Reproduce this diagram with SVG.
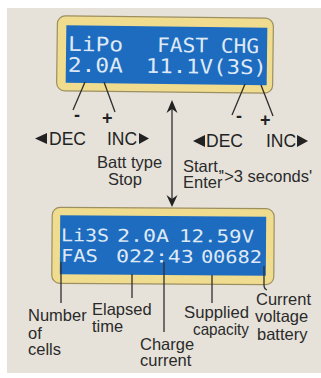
<svg xmlns="http://www.w3.org/2000/svg" width="321" height="378" viewBox="0 0 321 378">
<defs>
<style>
.bg{fill:#e6e2da}
.frame{fill:#f0dc8f;stroke:#9c8f62;stroke-width:1.2}
.lcd{fill:#1e6cc0}
.lt{font-family:"DejaVu Sans Mono","Liberation Mono",monospace;fill:#dfe9f6}
.lbl{font-family:"Liberation Sans",Arial,sans-serif;fill:#2a2a2a;font-size:16.5px}
.key{font-family:"Liberation Sans",Arial,sans-serif;fill:#222;font-size:17.5px}
.pm{font-family:"Liberation Sans",Arial,sans-serif;fill:#222;font-size:18px;font-weight:bold}
.ln{stroke:#2e2e2e;stroke-width:1.3;fill:none}
.tri{fill:#222}
</style>
</defs>
<rect width="321" height="378" fill="#ffffff"/>
<rect class="bg" x="7" y="8" width="314" height="365"/>

<g id="lcd-top" transform="rotate(0.7 165 55)">
<rect class="frame" x="57" y="17" width="216" height="75" rx="8"/>
<rect class="lcd" x="66" y="26.5" width="201" height="57.5"/>
<text class="lt" x="68" y="52" font-size="20" textLength="55" lengthAdjust="spacingAndGlyphs">LiPo</text>
<text class="lt" x="157" y="52" font-size="20" textLength="102" lengthAdjust="spacingAndGlyphs">FAST CHG</text>
<text class="lt" x="68" y="73" font-size="20" textLength="55" lengthAdjust="spacingAndGlyphs">2.0A</text>
<text class="lt" x="146" y="73" font-size="20" textLength="121" lengthAdjust="spacingAndGlyphs">11.1V(3S)</text>
</g>

<g id="lcd-bottom" transform="rotate(0.4 163 245)">
<rect class="frame" x="52" y="208" width="222" height="76" rx="8"/>
<rect class="lcd" x="60" y="216" width="206" height="59"/>
<text class="lt" x="61" y="242" font-size="17.5" textLength="48" lengthAdjust="spacingAndGlyphs">Li3S</text>
<text class="lt" x="117" y="242" font-size="17.5" textLength="52" lengthAdjust="spacingAndGlyphs">2.0A</text>
<text class="lt" x="179" y="242" font-size="17.5" textLength="75" lengthAdjust="spacingAndGlyphs">12.59V</text>
<text class="lt" x="61" y="262.5" font-size="17.5" textLength="37" lengthAdjust="spacingAndGlyphs">FAS</text>
<text class="lt" x="116" y="262.5" font-size="17.5" textLength="78" lengthAdjust="spacingAndGlyphs">022:43</text>
<text class="lt" x="201" y="262.5" font-size="17.5" textLength="61" lengthAdjust="spacingAndGlyphs">00682</text>
</g>

<g id="connectors">
<line class="ln" x1="85" y1="82" x2="73" y2="110"/>
<line class="ln" x1="104" y1="82" x2="115" y2="112"/>
<line class="ln" x1="245" y1="84" x2="232" y2="115"/>
<line class="ln" x1="261" y1="85" x2="273" y2="116"/>
<line class="ln" x1="172" y1="106" x2="172" y2="202" stroke-width="1"/>
<polygon class="tri" points="172,100 166.5,113 172,109 177.5,113"/>
<polygon class="tri" points="172,207 166.5,195 172,199 177.5,195"/>
<line class="ln" x1="61" y1="262" x2="61" y2="303"/>
<line class="ln" x1="132" y1="274" x2="132" y2="298"/>
<line class="ln" x1="164" y1="262" x2="164" y2="332"/>
<line class="ln" x1="212" y1="275" x2="212" y2="303"/>
<path class="ln" d="M264,266 L264,285 Q264,289 267,290"/>
</g>

<g id="keys-left">
<text class="pm" x="74" y="121">-</text>
<text class="pm" x="102" y="124">+</text>
<polygon class="tri" points="35,138.5 47,133 47,144"/>
<text class="key" x="49" y="144.5">DEC</text>
<text class="key" x="107" y="144.5">INC</text>
<polygon class="tri" points="139,133 139,144 149,138.5"/>
<text class="lbl" x="97" y="168">Batt type</text>
<text class="lbl" x="108" y="185">Stop</text>
</g>

<g id="keys-right">
<text class="pm" x="236" y="122">-</text>
<text class="pm" x="260" y="126">+</text>
<polygon class="tri" points="193,141 205,135 205,147"/>
<text class="key" x="206" y="146.5">DEC</text>
<text class="key" x="266" y="147">INC</text>
<polygon class="tri" points="297,135 297,147 308,141"/>
</g>

<g id="start-enter">
<text class="lbl" x="183" y="172">Start,</text>
<text class="lbl" x="183" y="188">Enter</text>
<text class="lbl" x="221" y="182">'&gt;3 seconds'</text>
</g>

<g id="label-cells">
<text class="lbl" x="28" y="321">Number</text>
<text class="lbl" x="28" y="339">of</text>
<text class="lbl" x="28" y="355">cells</text>
</g>
<g id="label-time">
<text class="lbl" x="92" y="315">Elapsed</text>
<text class="lbl" x="92" y="332">time</text>
</g>
<g id="label-current">
<text class="lbl" x="140" y="350">Charge</text>
<text class="lbl" x="140" y="366">current</text>
</g>
<g id="label-capacity">
<text class="lbl" x="184" y="318" textLength="65" lengthAdjust="spacingAndGlyphs">Supplied</text>
<text class="lbl" x="193" y="335" textLength="56" lengthAdjust="spacingAndGlyphs">capacity</text>
</g>
<g id="label-voltage">
<text class="lbl" x="256" y="305">Current</text>
<text class="lbl" x="255" y="322">voltage</text>
<text class="lbl" x="257" y="340">battery</text>
</g>
</svg>
